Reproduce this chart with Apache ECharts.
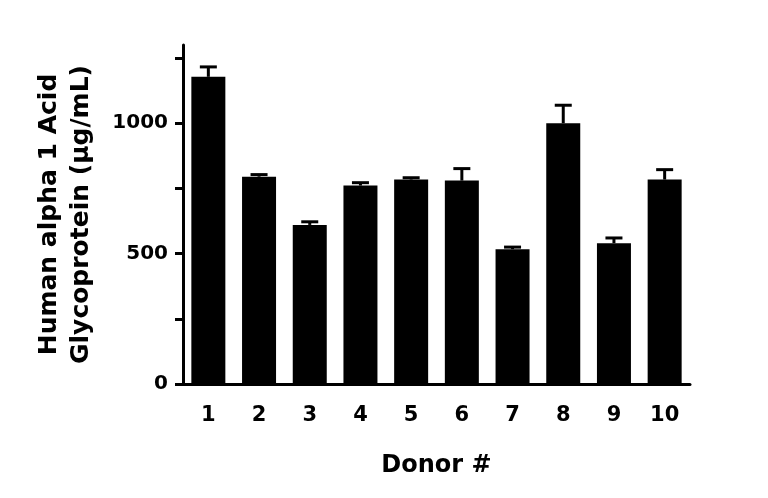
<!DOCTYPE html>
<html>
<head>
<meta charset="utf-8">
<script src="https://cdn.jsdelivr.net/npm/echarts@6/dist/echarts.min.js"></script>
<style>
html, body { margin: 0; padding: 0; background: #fff; }
#divChart { width: 768px; height: 498px; }
</style>
</head>
<body>
<div id="divChart"></div>
<script>
var donors = ['1', '2', '3', '4', '5', '6', '7', '8', '9', '10'];
var meanValues = [1178, 795, 610, 761, 784, 780, 517, 1000, 540, 784];
var errValues = [38, 8, 12, 11, 7, 46, 8, 69, 20, 38];
var yTicks = [0, 250, 500, 750, 1000, 1250];
var yLabels = [0, 500, 1000];

var fontName = 'DejaVu Sans';
var myChart = echarts.init(document.getElementById('divChart'));

function buildErrData() {
    var result = [];
    for (var i = 0; i < donors.length; i++) {
        result.push([i, meanValues[i], meanValues[i] + errValues[i]]);
    }
    return result;
}

var option = {
    animation: false,
    grid: { left: 183, right: 78, top: 45, bottom: 114 },
    xAxis: {
        type: 'category',
        data: donors,
        name: 'Donor #',
        nameLocation: 'middle',
        nameGap: 70,
        nameTextStyle: { fontFamily: fontName, fontWeight: 'bold', fontSize: 24, color: '#000' },
        axisLine: { lineStyle: { color: '#000', width: 3 } },
        axisTick: { alignWithLabel: true, length: 8, lineStyle: { color: '#000', width: 3 } },
        axisLabel: { margin: 21, fontFamily: fontName, fontWeight: 'bold', fontSize: 21, color: '#000' }
    },
    yAxis: {
        type: 'value',
        min: 0,
        max: 1300,
        name: 'Human alpha 1 Acid\nGlycoprotein (\u03bcg/mL)',
        nameLocation: 'middle',
        nameGap: 86,
        nameTextStyle: { fontFamily: fontName, fontWeight: 'bold', fontSize: 25, color: '#000', lineHeight: 32 },
        splitLine: { show: false },
        axisLine: { show: true, lineStyle: { color: '#000', width: 3 } },
        axisTick: { show: true, length: 8, customValues: yTicks, lineStyle: { color: '#000', width: 3 } },
        axisLabel: {
            margin: 15,
            customValues: yLabels,
            formatter: function (v) { return String(v); },
            fontFamily: fontName, fontWeight: 'bold', fontSize: 20, color: '#000'
        }
    },
    series: [
        {
            type: 'bar',
            data: meanValues,
            barWidth: 34,
            itemStyle: { color: '#000' }
        },
        {
            type: 'custom',
            data: buildErrData(),
            z: 3,
            renderItem: function (params, api) {
                var base = api.coord([api.value(0), api.value(1)]);
                var top = api.coord([api.value(0), api.value(2)]);
                var half = 8.5;
                var style = { stroke: '#000', lineWidth: 3 };
                return {
                    type: 'group',
                    children: [
                        { type: 'line', shape: { x1: base[0], y1: base[1], x2: top[0], y2: top[1] }, style: style },
                        { type: 'line', shape: { x1: top[0] - half, y1: top[1], x2: top[0] + half, y2: top[1] }, style: style }
                    ]
                };
            }
        }
    ]
};

myChart.setOption(option);
</script>
</body>
</html>
